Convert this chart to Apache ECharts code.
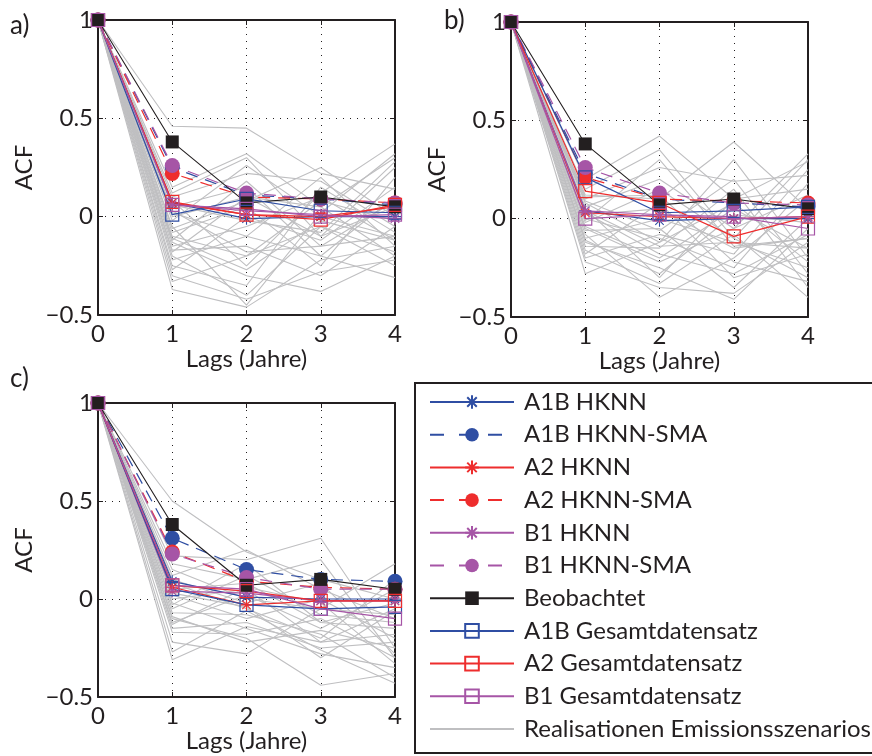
<!DOCTYPE html>
<html><head><meta charset="utf-8">
<script src="https://cdn.jsdelivr.net/npm/echarts@6/dist/echarts.min.js"></script>
<style>html,body{margin:0;padding:0;background:#fff}#c{width:872px;height:756px}</style>
</head><body><div id="c"></div><script>
// ---------------- data ----------------
const LAGS = [0, 1, 2, 3, 4];
const Y_TICKS = [-0.5, 0, 0.5, 1];
const PANEL_LABELS = ['a)', 'b)', 'c)'];
const X_NAME = 'Lags (Jahre)';
const Y_NAME = 'ACF';
const SERIES_NAMES = ['A1B HKNN', 'A1B HKNN-SMA', 'A2 HKNN', 'A2 HKNN-SMA', 'B1 HKNN', 'B1 HKNN-SMA',
  'Beobachtet', 'A1B Gesamtdatensatz', 'A2 Gesamtdatensatz', 'B1 Gesamtdatensatz', 'Realisationen Emissionsszenarios'];

const BEOBACHTET = [1, 0.38, 0.07, 0.10, 0.05];

// panel a
const A_A1B_HKNN = [1, 0.07, -0.01, 0.00, 0.00];
const A_A1B_SMA  = [1, 0.25, 0.11, 0.09, 0.06];
const A_A2_HKNN  = [1, 0.07, 0.01, 0.00, 0.05];
const A_A2_SMA   = [1, 0.22, 0.10, 0.09, 0.07];
const A_B1_HKNN  = [1, 0.06, 0.03, 0.01, -0.01];
const A_B1_SMA   = [1, 0.26, 0.12, 0.09, 0.07];
const A_A1B_GES  = [1, 0.01, 0.09, 0.03, 0.02];
const A_A2_GES   = [1, 0.075, 0.01, -0.015, 0.06];
const A_B1_GES   = [1, 0.06, 0.04, 0.00, 0.01];
const A_REAL = [
  [1, 0.46, 0.45, 0.22, 0.14], [1, 0.15, 0.32, 0.05, 0.30], [1, 0.12, 0.30, -0.10, 0.25],
  [1, 0.10, 0.22, 0.18, -0.05], [1, 0.08, -0.25, 0.12, 0.37], [1, 0.05, 0.15, -0.20, 0.10],
  [1, 0.02, -0.10, 0.20, -0.15], [1, 0.00, 0.10, 0.05, -0.20], [1, -0.05, -0.45, 0.02, 0.32],
  [1, -0.08, 0.05, -0.25, 0.20], [1, -0.10, -0.20, -0.05, -0.25], [1, -0.12, 0.18, -0.15, -0.10],
  [1, -0.13, -0.30, -0.38, -0.20], [1, -0.15, -0.05, 0.10, -0.12], [1, -0.17, -0.15, -0.30, -0.05],
  [1, -0.18, 0.10, -0.10, 0.05], [1, -0.20, -0.40, -0.05, -0.18], [1, -0.22, -0.10, -0.20, -0.31],
  [1, -0.25, -0.35, 0.15, -0.08], [1, -0.27, 0.00, -0.12, 0.15], [1, -0.30, -0.42, -0.28, -0.22],
  [1, -0.33, -0.20, 0.08, -0.02], [1, -0.37, -0.46, -0.22, -0.15], [1, 0.06, -0.02, -0.08, 0.28],
  [1, -0.02, 0.26, 0.00, -0.10], [1, 0.03, -0.18, -0.15, 0.08], [1, -0.06, 0.08, 0.25, 0.00],
  [1, -0.11, -0.27, -0.02, -0.12]
];

// panel b
const B_A1B_HKNN = [1, 0.04, -0.01, 0.00, 0.00];
const B_A1B_SMA  = [1, 0.23, 0.10, 0.08, 0.06];
const B_A2_HKNN  = [1, 0.03, 0.01, 0.00, 0.01];
const B_A2_SMA   = [1, 0.21, 0.10, 0.09, 0.08];
const B_B1_HKNN  = [1, 0.04, 0.02, 0.00, 0.01];
const B_B1_SMA   = [1, 0.26, 0.13, 0.08, 0.07];
const B_A1B_GES  = [1, 0.21, 0.03, 0.04, 0.06];
const B_A2_GES   = [1, 0.14, 0.08, -0.09, 0.01];
const B_B1_GES   = [1, 0.00, 0.02, 0.01, -0.05];
const B_REAL = [
  [1, 0.20, 0.42, 0.10, 0.15], [1, 0.15, 0.35, -0.10, 0.30], [1, 0.12, 0.10, 0.39, 0.05],
  [1, 0.10, 0.26, 0.19, 0.22], [1, 0.08, -0.12, 0.30, -0.20], [1, 0.06, 0.20, -0.05, 0.33],
  [1, 0.05, -0.30, 0.10, 0.29], [1, 0.02, 0.05, -0.15, -0.10], [1, 0.00, -0.10, -0.25, 0.18],
  [1, -0.02, 0.15, -0.10, -0.30], [1, -0.04, -0.20, 0.05, -0.15], [1, -0.06, -0.05, -0.35, 0.00],
  [1, -0.08, -0.40, -0.20, 0.10], [1, -0.10, 0.00, -0.12, -0.25], [1, -0.12, -0.25, -0.41, -0.05],
  [1, -0.14, -0.15, 0.15, -0.35], [1, -0.16, -0.33, -0.08, -0.40], [1, -0.18, 0.08, -0.30, -0.18],
  [1, -0.20, -0.08, -0.18, 0.25], [1, -0.22, -0.35, -0.38, -0.12], [1, -0.28, -0.12, 0.08, -0.22],
  [1, 0.03, -0.18, -0.28, -0.08], [1, -0.01, 0.30, -0.14, -0.10], [1, 0.09, -0.06, 0.20, -0.28],
  [1, -0.05, -0.22, -0.05, 0.12], [1, 0.11, 0.12, -0.22, -0.32], [1, -0.11, -0.28, 0.02, -0.02],
  [1, 0.04, -0.14, -0.12, -0.15]
];

// panel c
const C_A1B_HKNN = [1, 0.09, 0.01, 0.00, 0.00];
const C_A1B_SMA  = [1, 0.31, 0.15, 0.10, 0.09];
const C_A2_HKNN  = [1, 0.06, -0.03, -0.01, -0.01];
const C_A2_SMA   = [1, 0.24, 0.09, 0.06, 0.05];
const C_B1_HKNN  = [1, 0.04, 0.03, -0.01, -0.01];
const C_B1_SMA   = [1, 0.23, 0.11, 0.05, 0.05];
const C_A1B_GES  = [1, 0.05, -0.03, -0.05, -0.04];
const C_A2_GES   = [1, 0.07, 0.04, -0.01, -0.01];
const C_B1_GES   = [1, 0.07, 0.05, -0.05, -0.10];
const C_REAL = [
  [1, 0.50, 0.24, 0.10, 0.00], [1, 0.22, 0.20, 0.31, -0.25], [1, 0.18, 0.10, 0.20, -0.30],
  [1, 0.15, 0.00, -0.05, 0.18], [1, 0.12, 0.25, 0.05, -0.10], [1, 0.08, -0.05, -0.20, 0.10],
  [1, 0.05, 0.08, -0.12, -0.15], [1, 0.02, -0.10, 0.00, -0.20], [1, 0.00, 0.05, -0.22, -0.05],
  [1, -0.02, -0.15, -0.28, -0.35], [1, -0.05, 0.12, -0.08, -0.12], [1, -0.07, -0.08, -0.18, -0.40],
  [1, -0.10, -0.20, -0.44, -0.38], [1, -0.12, 0.02, -0.15, 0.05], [1, -0.15, -0.12, -0.25, -0.22],
  [1, -0.17, -0.18, -0.10, -0.30], [1, -0.22, -0.28, -0.05, -0.08], [1, -0.27, -0.06, -0.26, -0.43],
  [1, -0.31, -0.14, -0.22, -0.18], [1, 0.10, -0.02, 0.08, -0.28], [1, -0.03, 0.18, -0.12, -0.02],
  [1, -0.09, -0.22, -0.16, -0.25], [1, 0.03, -0.04, -0.30, -0.06], [1, -0.13, 0.06, -0.02, -0.33]
];

// ---------------- styling ----------------
const FONT = 'Lato';
const FS = 24;
const INK = '#231f20';
const BLUE = '#2f4ea3', RED = '#ee2d2d', PURPLE = '#a655a6', GREY = '#bfbfc1';
const ASTERISK = 'path://M5 0 L5 10 M0 5 L10 5 M1.5 1.5 L8.5 8.5 M1.5 8.5 L8.5 1.5';

const STYLES = [
  { c: BLUE, k: 'star' }, { c: BLUE, k: 'dot' }, { c: RED, k: 'star' }, { c: RED, k: 'dot' },
  { c: PURPLE, k: 'star' }, { c: PURPLE, k: 'dot' }, { c: INK, k: 'obs' },
  { c: BLUE, k: 'box' }, { c: RED, k: 'box' }, { c: PURPLE, k: 'box' }
];

const GRIDS = [
  { left: 98, top: 20, width: 297, height: 295 },
  { left: 511, top: 22, width: 297, height: 295 },
  { left: 98, top: 403, width: 297, height: 294 }
];

const PANELS = [
  { real: A_REAL, vals: [A_A1B_HKNN, A_A1B_SMA, A_A2_HKNN, A_A2_SMA, A_B1_HKNN, A_B1_SMA, BEOBACHTET, A_A1B_GES, A_A2_GES, A_B1_GES] },
  { real: B_REAL, vals: [B_A1B_HKNN, B_A1B_SMA, B_A2_HKNN, B_A2_SMA, B_B1_HKNN, B_B1_SMA, BEOBACHTET, B_A1B_GES, B_A2_GES, B_B1_GES] },
  { real: C_REAL, vals: [C_A1B_HKNN, C_A1B_SMA, C_A2_HKNN, C_A2_SMA, C_B1_HKNN, C_B1_SMA, BEOBACHTET, C_A1B_GES, C_A2_GES, C_B1_GES] }
];

const toPairs = v => LAGS.map((l, i) => [l, v[i]]);

const xAxes = [], yAxes = [], series = [];
PANELS.forEach((p, gi) => {
  const axLine = { show: true, onZero: false, lineStyle: { color: INK, width: 2 } };
  const tick = { show: true, inside: true, length: 5, lineStyle: { color: INK, width: 1 } };
  xAxes.push({
    gridIndex: gi, type: 'value', min: 0, max: 4, interval: 1, position: 'bottom',
    axisLine: axLine, axisTick: tick,
    axisLabel: { fontFamily: FONT, fontSize: FS, color: INK, margin: 7 },
    splitLine: { show: true, lineStyle: { color: INK, width: 1, type: [1, 6] } },
    name: X_NAME, nameLocation: 'middle', nameGap: 32,
    nameTextStyle: { fontFamily: FONT, fontSize: FS, color: INK }
  });
  xAxes.push({
    gridIndex: gi, type: 'value', min: 0, max: 4, interval: 1, position: 'top',
    axisLine: axLine, axisTick: tick, axisLabel: { show: false }, splitLine: { show: false }
  });
  yAxes.push({
    gridIndex: gi, type: 'value', min: -0.5, max: 1, interval: 0.5, position: 'left',
    axisLine: axLine, axisTick: tick,
    axisLabel: { fontFamily: FONT, fontSize: FS, color: INK, margin: 5,
      formatter: v => (v < 0 ? '\u2212' + Math.abs(v) : String(v)) },
    splitLine: { show: true, lineStyle: { color: INK, width: 1, type: [1, 6] } },
    name: Y_NAME, nameLocation: 'middle', nameGap: 62, nameRotate: 90,
    nameTextStyle: { fontFamily: FONT, fontSize: FS, color: INK }
  });
  yAxes.push({
    gridIndex: gi, type: 'value', min: -0.5, max: 1, interval: 0.5, position: 'right',
    axisLine: axLine, axisTick: tick, axisLabel: { show: false }, splitLine: { show: false }
  });

  p.real.forEach(r => series.push({
    type: 'line', name: SERIES_NAMES[10], xAxisIndex: gi * 2, yAxisIndex: gi * 2,
    data: toPairs(r), symbol: 'none', lineStyle: { color: GREY, width: 1.1 },
    itemStyle: { color: GREY }, animation: false, silent: true, z: 2
  }));

  p.vals.forEach((v, si) => {
    const st = STYLES[si];
    const s = {
      type: 'line', name: SERIES_NAMES[si], xAxisIndex: gi * 2, yAxisIndex: gi * 2,
      data: toPairs(v), animation: false, silent: true, z: 3, clip: false,
      lineStyle: { color: st.c, width: 1.2, type: 'solid' }
    };
    if (st.k === 'star') {
      s.symbol = ASTERISK; s.symbolSize = 12;
      s.itemStyle = { color: 'transparent', borderColor: st.c, borderWidth: 1.1 };
    } else if (st.k === 'dot') {
      s.symbol = 'circle'; s.symbolSize = 15;
      s.lineStyle.type = [12, 8];
      s.itemStyle = { color: st.c, borderWidth: 0 };
    } else if (st.k === 'obs') {
      s.symbol = 'rect'; s.symbolSize = 13;
      s.lineStyle.width = 1.1;
      s.itemStyle = { color: st.c, borderWidth: 0 };
    } else {
      s.symbol = 'rect'; s.symbolSize = 13;
      s.itemStyle = { color: 'transparent', borderColor: st.c, borderWidth: 1.2 };
    }
    series.push(s);
  });
});

const legendData = SERIES_NAMES.map((n, i) => {
  if (i === 10) return { name: n, itemStyle: { color: 'rgba(0,0,0,0)', borderColor: 'rgba(0,0,0,0)', borderWidth: 0 } };
  if (STYLES[i].k === 'dot') return { name: n, lineStyle: { type: [14, 15] } };
  return { name: n };
});

const chart = echarts.init(document.getElementById('c'), null, { renderer: 'canvas' });
chart.setOption({
  backgroundColor: '#fff',
  animation: false,
  textStyle: { fontFamily: FONT },
  grid: GRIDS,
  xAxis: xAxes,
  yAxis: yAxes,
  legend: {
    orient: 'vertical', left: 429, top: 390, padding: 0, height: 366,
    itemWidth: 84, itemHeight: 17, itemGap: 8.7,
    selectedMode: false,
    data: legendData,
    textStyle: { fontFamily: FONT, fontSize: FS, color: INK, lineHeight: 22, padding: [0, 0, 0, 5] }
  },
  graphic: [
    { type: 'rect', shape: { x: 415, y: 383, width: 470, height: 370 }, style: { fill: 'none', stroke: INK, lineWidth: 2 }, z: 1 },
    { type: 'text', left: 10, top: 13, style: { text: PANEL_LABELS[0], font: '26px ' + FONT, fill: INK } },
    { type: 'text', left: 444, top: 8, style: { text: PANEL_LABELS[1], font: '26px ' + FONT, fill: INK } },
    { type: 'text', left: 10, top: 366, style: { text: PANEL_LABELS[2], font: '26px ' + FONT, fill: INK } }
  ],
  series: series
});
</script></body></html>
